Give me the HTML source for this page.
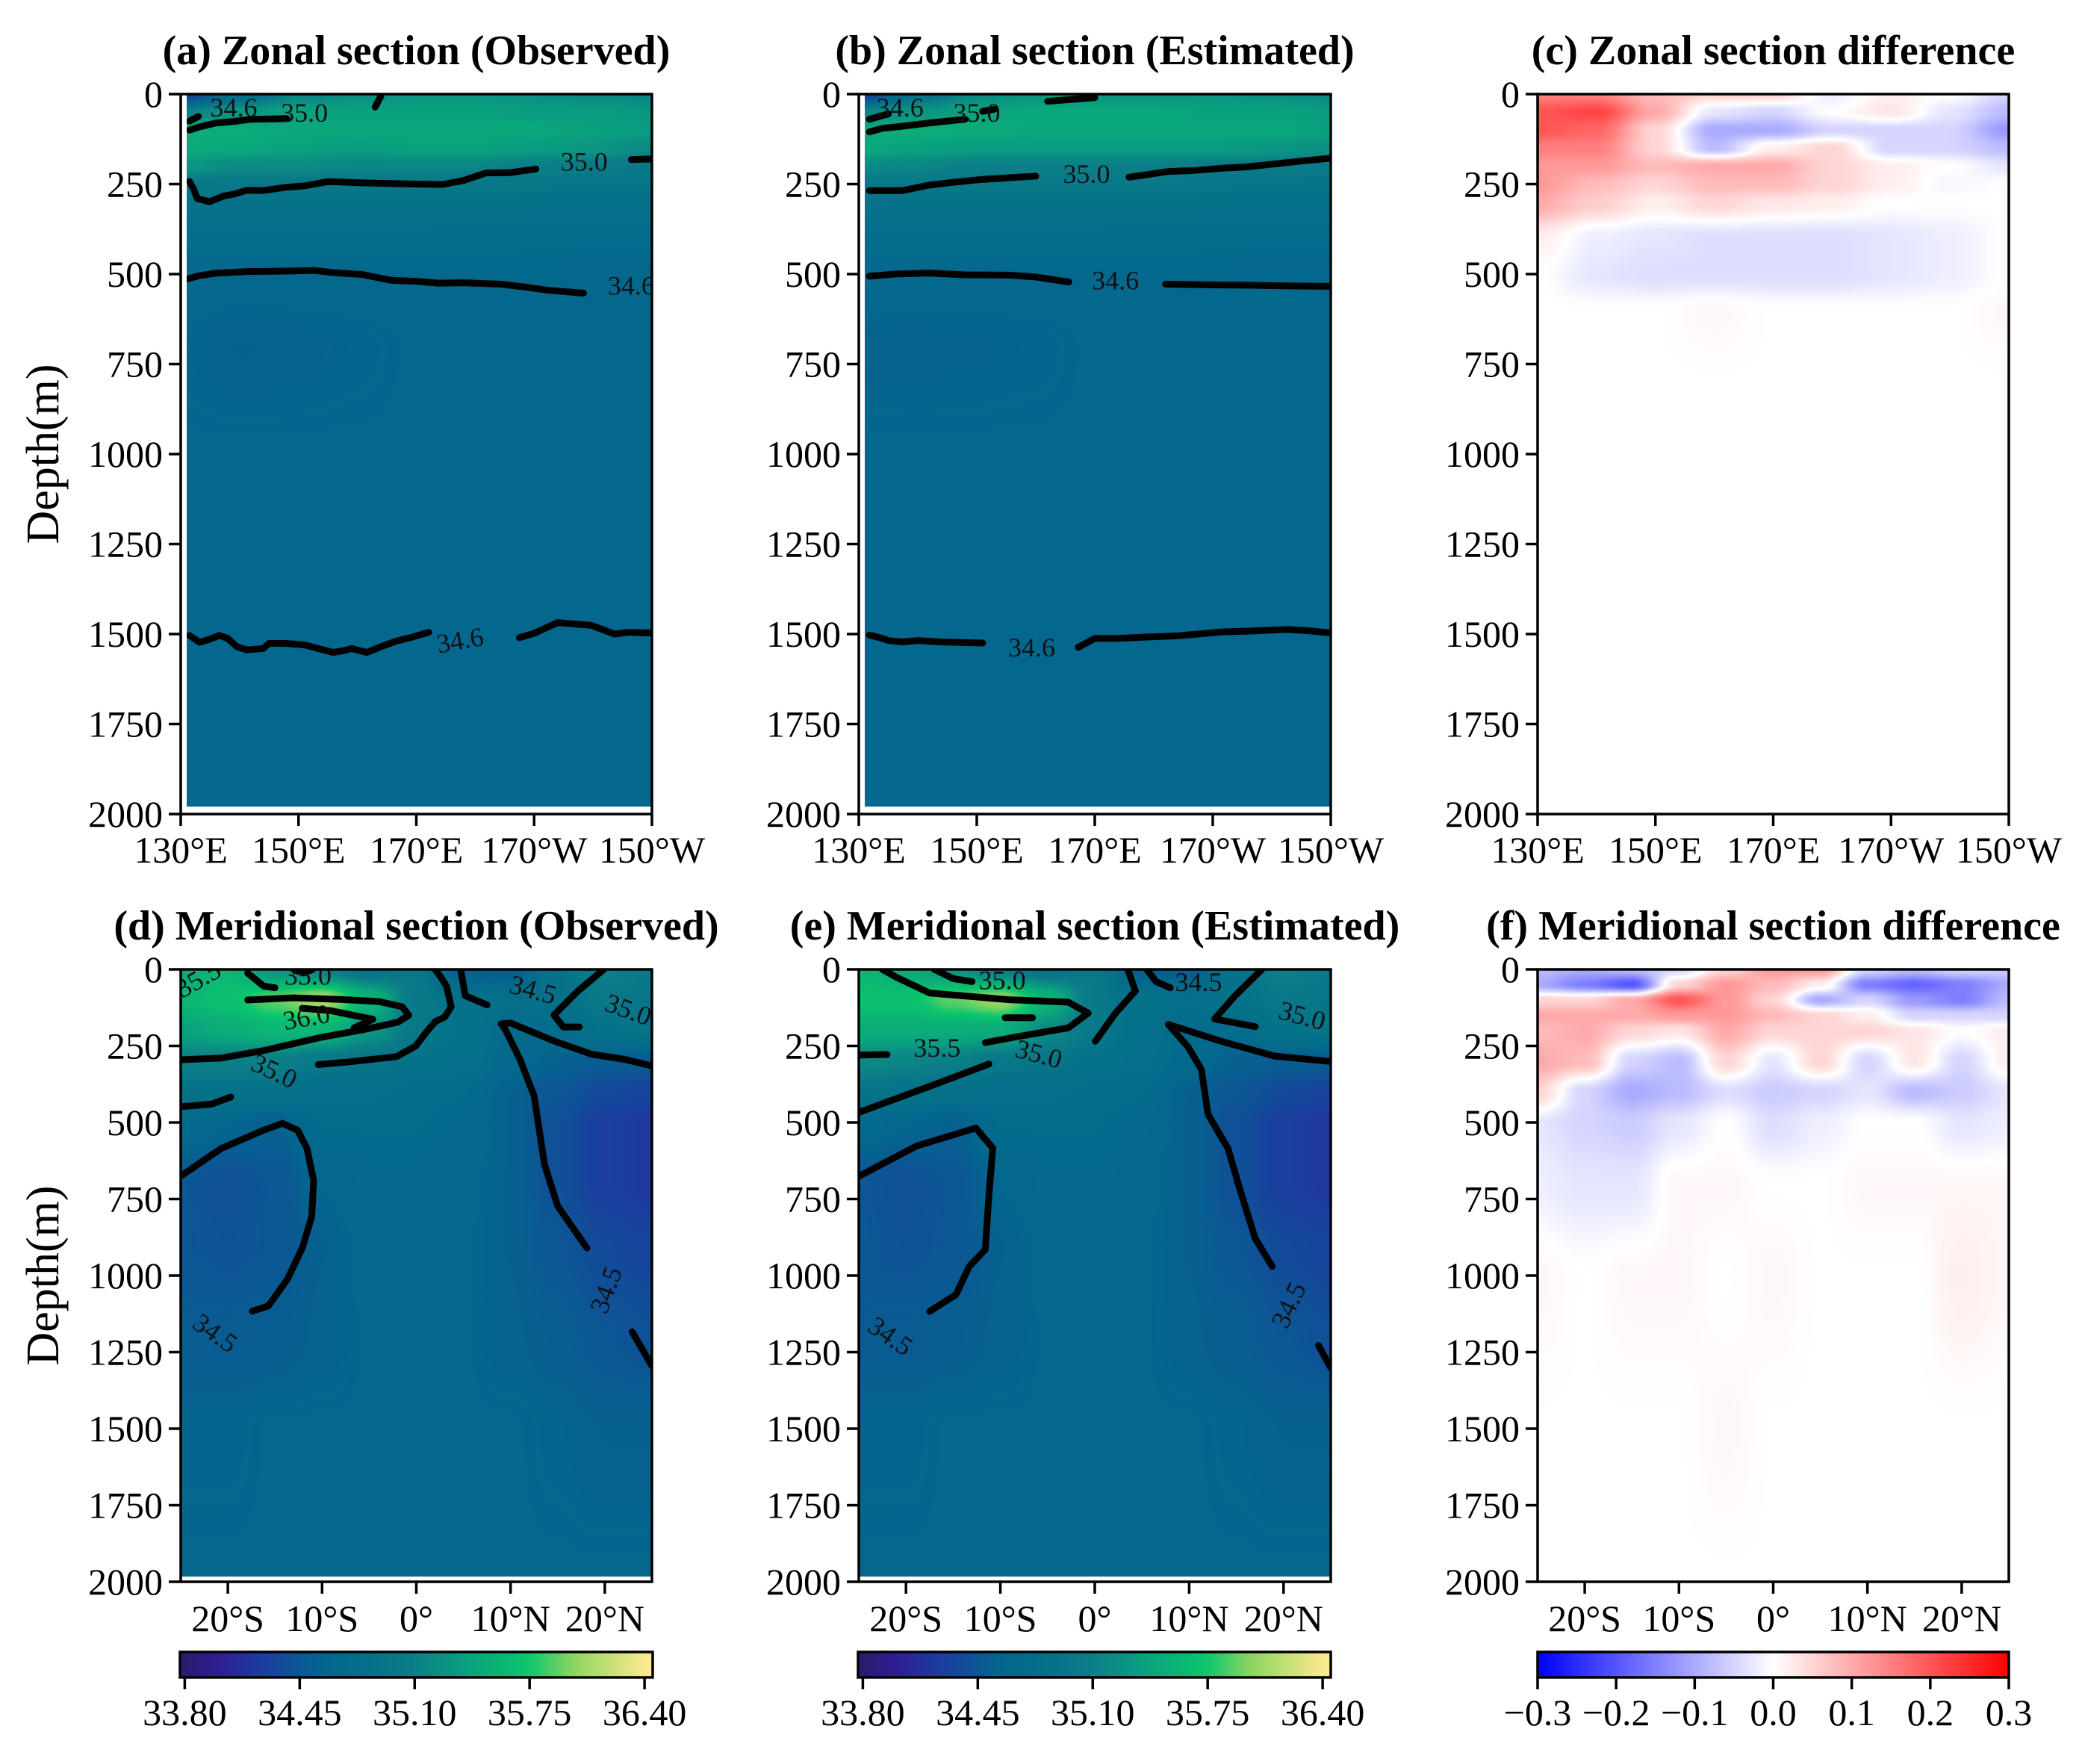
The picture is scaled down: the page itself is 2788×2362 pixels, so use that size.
<!DOCTYPE html>
<html><head><meta charset="utf-8"><style>
html,body{margin:0;padding:0;background:#fff;}
#wrap{position:relative;width:2788px;height:2362px;}
canvas{position:absolute;}
svg{position:absolute;left:0;top:0;display:block;font-family:"Liberation Serif",serif;}
</style></head><body>
<div id="wrap">
<svg id="fig" xmlns="http://www.w3.org/2000/svg" width="2788" height="2362" viewBox="0 0 2788 2362"></svg>
</div>
<script>
// ---------- data ----------
const zonalLon = [130,140,150,160,170,180,190,200,210];
const zonalDepth = [0,50,100,150,200,250,300,400,500,700,1000,1500,2000];
const zonalObs = [
[34.2,34.8,35.15,35.25,35.3,35.3,35.25,35.2,35.15],
[35.1,35.3,35.4,35.4,35.4,35.4,35.35,35.35,35.3],
[35.5,35.5,35.45,35.45,35.45,35.45,35.45,35.4,35.35],
[35.5,35.45,35.4,35.35,35.4,35.4,35.35,35.3,35.2],
[35.3,35.2,35.2,35.15,35.15,35.15,35.1,35.05,35.0],
[35.0,35.0,35.0,35.0,35.0,35.0,34.97,34.95,34.95],
[34.92,34.9,34.9,34.9,34.9,34.9,34.88,34.87,34.87],
[34.75,34.75,34.75,34.75,34.75,34.74,34.73,34.72,34.72],
[34.65,34.63,34.63,34.63,34.64,34.64,34.64,34.63,34.62],
[34.58,34.55,34.56,34.58,34.6,34.6,34.6,34.6,34.6],
[34.6,34.6,34.6,34.6,34.6,34.6,34.6,34.6,34.6],
[34.6,34.6,34.6,34.6,34.6,34.6,34.6,34.6,34.6],
[34.6,34.6,34.6,34.6,34.6,34.6,34.6,34.6,34.6]];
const zonalEst = [
[34.2,34.9,35.2,35.3,35.3,35.3,35.3,35.25,35.2],
[35.15,35.3,35.4,35.45,35.45,35.45,35.4,35.4,35.35],
[35.5,35.5,35.5,35.45,35.45,35.45,35.45,35.45,35.4],
[35.45,35.4,35.35,35.35,35.35,35.35,35.35,35.3,35.25],
[35.2,35.15,35.1,35.1,35.1,35.1,35.05,35.05,35.03],
[35.0,35.0,35.0,35.0,35.0,35.0,34.97,34.95,34.93],
[34.92,34.9,34.9,34.9,34.9,34.9,34.88,34.87,34.87],
[34.75,34.75,34.75,34.75,34.75,34.74,34.73,34.72,34.72],
[34.65,34.63,34.63,34.63,34.64,34.64,34.64,34.63,34.62],
[34.57,34.56,34.57,34.58,34.6,34.6,34.6,34.6,34.6],
[34.6,34.6,34.6,34.6,34.6,34.6,34.6,34.6,34.6],
[34.6,34.6,34.6,34.6,34.6,34.6,34.6,34.6,34.6],
[34.6,34.6,34.6,34.6,34.6,34.6,34.6,34.6,34.6]];
const zonalDiffDepth = [0,50,100,150,200,250,300,400,500,600,800,2000];
const zonalDiff = [
[0.15,0.15,0.08,0.05,0.05,-0.02,0.02,0,-0.05],
[0.2,0.22,0.1,-0.03,-0.05,0,0.03,-0.03,-0.08],
[0.2,0.18,0.05,-0.1,-0.1,-0.05,-0.05,-0.05,-0.12],
[0.15,0.15,0.05,-0.08,0.02,0.05,-0.05,-0.05,-0.08],
[0.12,0.12,0.08,0.1,0.1,0.05,0.02,0,-0.03],
[0.12,0.08,0.05,0.08,0.08,0.05,0.02,-0.01,0],
[0.1,0.06,0.02,0.05,0.03,0.02,0,0,0],
[0.02,-0.02,-0.03,-0.04,-0.04,-0.04,-0.03,-0.02,0],
[0,-0.03,-0.04,-0.04,-0.04,-0.04,-0.03,-0.02,0],
[0,0,0,0.01,0,0,0,0,0.01],
[0,0,0,0,0,0,0,0,0],
[0,0,0,0,0,0,0,0,0]];
const merLat = [-25,-20,-15,-10,-5,0,5,10,15,20,25];
const merDepth = [0,100,200,300,400,500,700,900,1200,1500,2000];
const merObs = [
[35.5,35.6,35.3,35.1,34.9,35.0,34.5,34.5,34.9,35.1,35.0],
[35.6,35.7,35.9,36.1,35.6,35.0,34.9,34.8,34.9,35.0,34.95],
[35.4,35.5,35.6,35.6,35.3,35.0,34.9,34.7,34.75,34.9,34.95],
[35.1,35.1,35.1,35.0,34.95,34.9,34.85,34.65,34.55,34.5,34.5],
[34.9,34.9,34.9,34.8,34.8,34.75,34.7,34.55,34.45,34.35,34.3],
[34.7,34.6,34.55,34.7,34.7,34.7,34.65,34.55,34.4,34.25,34.2],
[34.45,34.4,34.45,34.6,34.65,34.65,34.62,34.55,34.4,34.25,34.2],
[34.45,34.42,34.45,34.55,34.62,34.62,34.6,34.55,34.45,34.35,34.3],
[34.5,34.5,34.52,34.56,34.6,34.6,34.6,34.56,34.52,34.45,34.4],
[34.58,34.58,34.6,34.6,34.6,34.6,34.6,34.6,34.58,34.55,34.55],
[34.6,34.6,34.6,34.6,34.6,34.6,34.6,34.6,34.6,34.6,34.6]];
const merEst = [
[35.6,35.5,35.3,35.1,34.9,35.0,34.5,34.5,34.9,35.1,35.0],
[35.7,35.7,35.9,36.05,35.6,35.0,34.9,34.8,34.9,35.0,34.95],
[35.5,35.5,35.5,35.5,35.2,35.0,34.85,34.7,34.75,34.9,34.95],
[35.2,35.15,35.1,35.0,34.95,34.9,34.8,34.65,34.55,34.5,34.5],
[34.95,34.9,34.85,34.8,34.8,34.75,34.7,34.55,34.45,34.35,34.3],
[34.7,34.6,34.55,34.7,34.7,34.7,34.65,34.55,34.4,34.25,34.2],
[34.45,34.4,34.45,34.6,34.65,34.65,34.62,34.55,34.4,34.25,34.2],
[34.45,34.42,34.45,34.55,34.62,34.62,34.6,34.55,34.45,34.35,34.3],
[34.5,34.5,34.52,34.56,34.6,34.6,34.6,34.56,34.52,34.45,34.4],
[34.58,34.58,34.6,34.6,34.6,34.6,34.6,34.6,34.58,34.55,34.55],
[34.6,34.6,34.6,34.6,34.6,34.6,34.6,34.6,34.6,34.6,34.6]];
const merDiffDepth = [0,50,100,150,200,300,400,500,700,1000,1500,2000];
const merDiff = [
[-0.08,-0.1,-0.08,-0.05,0.05,0.12,0.12,-0.05,-0.08,-0.05,-0.06],
[-0.1,-0.15,-0.2,0.05,0.12,0.08,0.02,-0.15,-0.18,-0.15,-0.1],
[0.05,0.05,0.1,0.2,0.12,0.05,-0.1,-0.05,-0.12,-0.15,-0.08],
[0.1,0.1,0.1,0.12,0.12,0.08,0.05,0.02,-0.05,-0.05,-0.05],
[0.08,0.1,0.05,0.03,0.1,0.05,0.05,0.05,0.03,0,0.02],
[0.1,0.08,-0.05,-0.08,0.05,-0.03,0.05,-0.05,0.03,-0.05,0.02],
[0.05,-0.05,-0.1,-0.08,-0.04,-0.06,-0.05,-0.03,-0.08,-0.06,-0.03],
[-0.03,-0.05,-0.06,-0.03,0,-0.04,-0.02,0,0,-0.03,-0.02],
[-0.02,-0.03,-0.03,0.01,0.01,0,0,0.01,0.01,0.01,0.01],
[0.01,0,0.01,0.01,0,0.01,0,0,0,0.02,0.01],
[0,0,0,0,0.01,0,0,0,0,0,0],
[0,0,0,0,0,0,0,0,0,0,0]];
const depthTicks = [0,250,500,750,1000,1250,1500,1750,2000];
const lonTicks = [130,150,170,190,210];
const lonTickLabels = ["130°E","150°E","170°E","170°W","150°W"];
const latTicks = [-20,-10,0,10,20];
const latTickLabels = ["20°S","10°S","0°","10°N","20°N"];
const salTicks = [33.80,34.45,35.10,35.75,36.40];
const salTickLabels = ["33.80","34.45","35.10","35.75","36.40"];
const diffTicks = [-0.3,-0.2,-0.1,0.0,0.1,0.2,0.3];
const diffTickLabels = ["−0.3","−0.2","−0.1","0.0","0.1","0.2","0.3"];
// contours: [x(lon/lat), depth] pairs
const contA = [
 {pts:[[131.5,100],[133,92],[136,80],[139,76],[142,70],[148,68]]},
 {pts:[[131.5,75],[133,62]]},
 {pts:[[164,5],[163,36]]},
 {pts:[[131.5,243],[132.2,265],[132.8,290],[134.9,299],[137.3,283],[139,278],[141.3,267],[144,268],[147.8,259],[151,255],[155.1,243],[160,246],[164,248],[170,250],[174.5,251],[178,240],[181.8,219],[186,218],[190.3,208]]},
 {pts:[[206.5,182],[210,180]]},
 {pts:[[131.2,513],[133,505],[135.7,498],[141.3,493],[147,492],[152.7,490],[156,496],[160.8,501],[165.6,517],[170,520],[173.7,525],[178,524],[184.3,528],[188,535],[192.4,545],[198.4,553]]},
 {pts:[[131.5,1504],[133.2,1523],[135,1514],[136.5,1504],[138,1512],[139.5,1535],[141.3,1544],[144,1540],[145,1526],[147.8,1526],[151,1530],[155.9,1551],[158,1545],[159,1540],[161.6,1551],[164,1535],[166.5,1520],[169,1510],[172.1,1495]]},
 {pts:[[187.5,1510],[190,1498],[194,1468],[199.7,1476],[203.7,1500],[206,1495],[210,1497]]}];
const labA = [["34.6",139,45,0],["35.0",151,60,0],["35.0",198.5,195,0],["34.6",206.5,540,0],["34.6",177.5,1525,-10]];
const contB = [
 {pts:[[131.8,105],[134,95],[137,90],[142,80],[148,70]]},
 {pts:[[131.8,70],[135,55]]},
 {pts:[[151,48],[153,42]]},
 {pts:[[162,20],[170,10]]},
 {pts:[[131.8,268],[133.6,268],[137.4,268],[141.9,253],[146,245],[151,237],[156,232],[160,228]]},
 {pts:[[175.8,231],[182.5,215],[187,212],[191.5,206],[196,202],[200.5,194],[205,186],[210,178]]},
 {pts:[[131.8,506],[136,500],[141.9,497],[148,502],[155.5,503],[160,508],[165.6,522]]},
 {pts:[[182,528],[190,530],[196,531],[203,533],[210,534]]},
 {pts:[[131.8,1503],[134,1512],[135,1518],[137.4,1522],[140,1518],[144,1522],[151,1525]]},
 {pts:[[167.2,1537],[170,1512],[174,1512],[178,1509],[184,1505],[191.5,1494],[196,1492],[202.8,1487],[207,1492],[210,1497]]}];
const labB = [["34.6",137,45,0],["35.0",150,60,0],["35.0",168.6,230,0],["34.6",173.5,525,0],["34.6",159.3,1545,0]];
const contD = [
 {pts:[[-17.9,12],[-16.2,55],[-15,60]]},
 {pts:[[-12.1,127],[-9.1,135],[-4.6,163],[-6.6,191]]},
 {pts:[[-25,295],[-20.8,290],[-16.2,265],[-10.1,222],[-5.5,196],[-2,173],[-0.8,150],[-1.5,122],[-4,105],[-8,98],[-13,93],[-17.9,100]]},
 {pts:[[-10.4,311],[-7.1,302],[-2.1,285],[-0.05,250],[1,207],[2,171],[3,156],[3.7,122],[3.2,55],[2.5,21],[2,0]]},
 {pts:[[-24.8,448],[-21.7,440],[-19.7,417]]},
 {pts:[[-24.8,671],[-20.7,585],[-16.2,525],[-14.2,503],[-12.6,525],[-11.6,585],[-10.9,688],[-11.1,808],[-12.1,910],[-13.7,1013],[-15.7,1099],[-17.4,1116]]},
 {pts:[[-13,0],[-12,12],[-11,0]]},
 {pts:[[4.7,0],[5.2,86],[7.5,116]]},
 {pts:[[19.9,0],[17.1,72],[14.6,149],[15.6,188],[17.3,188]]},
 {pts:[[9,178],[10,175],[14.6,234],[18.6,277],[22.1,294],[25,315]]},
 {pts:[[9,178],[9.5,200],[11,294],[12.5,414],[13.6,637],[15,773],[18.1,910]]},
 {pts:[[22.9,1184],[25,1295]]}];
const labD = [["35.5",-23,40,-30],["35.0",-11.5,30,0],["36.0",-11.6,165,-10],["35.0",-15.2,340,25],["34.5",12.3,75,15],["35.0",22.4,140,20],["34.5",20.4,1050,-70],["34.5",-21.5,1195,35]];
const contE = [
 {pts:[[-22.5,0],[-21,26],[-17.5,77],[-9.1,99],[-2.8,107],[-0.7,143],[-2.8,191],[-7.7,217],[-11.6,239]]},
 {pts:[[-17,0],[-15,30],[-13,40]]},
 {pts:[[-9.5,158],[-6.6,158]]},
 {pts:[[-25,280],[-22,278]]},
 {pts:[[-25,467],[-17.5,382],[-11.2,309]]},
 {pts:[[0.06,235],[2.2,143],[4.3,70],[3.5,0]]},
 {pts:[[5.5,0],[6.5,40],[8,60]]},
 {pts:[[17.7,0],[14.8,88],[12.7,162],[17,187]]},
 {pts:[[7.8,180],[13.4,235],[19,283],[25,301]]},
 {pts:[[7.8,180],[9.9,254],[11.3,327],[12,474],[14.1,584],[15.5,731],[17,879],[18.8,970]]},
 {pts:[[23.7,1228],[25,1301]]},
 {pts:[[-25,676],[-18.9,577],[-12.6,518],[-10.8,584],[-11.2,731],[-11.6,915],[-13.3,970],[-14.7,1062],[-17.5,1117]]}];
const labE = [["35.0",-9.8,45,0],["35.5",-16.7,265,0],["35.0",-6,285,15],["34.5",11,50,0],["35.0",21.9,160,15],["34.5",20.8,1100,-65],["34.5",-21.8,1205,35]];

// ---------- helpers ----------
const NS="http://www.w3.org/2000/svg";
const svg=document.getElementById('fig');
const wrap=document.getElementById('wrap');
function el(tag,attrs,parent){const e=document.createElementNS(NS,tag);for(const k in attrs)e.setAttribute(k,attrs[k]);(parent||svg).appendChild(e);return e;}
function hex(c){return [parseInt(c.slice(1,3),16),parseInt(c.slice(3,5),16),parseInt(c.slice(5,7),16)];}
function interpRGB(stops,v){
 if(v<=stops[0][0])return hex(stops[0][1]);
 for(let i=1;i<stops.length;i++){if(v<=stops[i][0]){const t=(v-stops[i-1][0])/(stops[i][0]-stops[i-1][0]);const a=hex(stops[i-1][1]),b=hex(stops[i][1]);return a.map((x,j)=>Math.round(x+(b[j]-x)*t));}}
 return hex(stops[stops.length-1][1]);}
function interp(stops,v){return 'rgb('+interpRGB(stops,v).join(',')+')';}
const salStops=[[33.8,'#2c1a6b'],[34.0,'#2e1e96'],[34.25,'#1b3ea0'],[34.45,'#0c5694'],[34.6,'#04678e'],[34.9,'#057289'],[35.1,'#0b7f88'],[35.4,'#0aa27e'],[35.75,'#0cc66c'],[36.0,'#8fd561'],[36.4,'#fbe98f']];
const diffStops=[[-0.3,'#0000ff'],[0,'#ffffff'],[0.3,'#ff0000']];

const rowTop=126,rowBot=1090,row2Top=1298,row2Bot=2118;
const cols=[[242,873],[1150,1782],[2059,2690]];

function makeAxes(x0,x1,y0,y1,dom){
 return {x0,x1,y0,y1,dom,sx:v=>x0+(v-dom[0])/(dom[1]-dom[0])*(x1-x0),sy:d=>y0+d/2000*(y1-y0),
  ix:px=>dom[0]+(px-x0)/(x1-x0)*(dom[1]-dom[0]),iy:py=>(py-y0)/(y1-y0)*2000};
}
function locate(arr,v){
 if(v<=arr[0])return [0,0];
 if(v>=arr[arr.length-1])return [arr.length-2,1];
 let i=0;while(v>arr[i+1])i++;
 let t=(v-arr[i])/(arr[i+1]-arr[i]);
 t=t*t*(3-2*t);
 return [i,t];
}
function drawField(name,ax,xs,ds,grid,stops,whiteLeft,whiteBottom){
 const L=Math.round(ax.x0+whiteLeft),T=Math.round(ax.y0),W=Math.round(ax.x1-ax.x0-whiteLeft),H=Math.round(ax.y1-ax.y0-whiteBottom);
 const cv=document.createElement('canvas');
 cv.width=W;cv.height=H;
 cv.style.left=L+'px';cv.style.top=T+'px';
 
 
 wrap.insertBefore(cv,svg);
 const ctx=cv.getContext('2d');
 const img=ctx.createImageData(W,H);
 const xl=[];for(let x=0;x<W;x++)xl.push(locate(xs,ax.ix(L+x+0.5)));
 for(let y=0;y<H;y++){
  const [r,ty]=locate(ds,ax.iy(T+y+0.5));
  const g0=grid[r],g1=grid[r+1];
  for(let x=0;x<W;x++){
   const [c,tx]=xl[x];
   const a=g0[c]+(g0[c+1]-g0[c])*tx, b=g1[c]+(g1[c+1]-g1[c])*tx;
   const v=a+(b-a)*ty;
   const col=interpRGB(stops,v);
   const k=(y*W+x)*4;
   img.data[k]=col[0];img.data[k+1]=col[1];img.data[k+2]=col[2];img.data[k+3]=255;
  }
 }
 ctx.putImageData(img,0,0);
}
function drawContours(g,ax,conts,labs){
 conts.forEach(cn=>{
  const d='M'+cn.pts.map(p=>ax.sx(p[0]).toFixed(1)+','+ax.sy(p[1]).toFixed(1)).join('L');
  const p=el('path',{d,fill:'none',stroke:'#000','stroke-width':9,'stroke-linejoin':'round','stroke-linecap':'round'},g);
  
  
 });
 labs.forEach(l=>{
  const x=ax.sx(l[1]),y=ax.sy(l[2]);
  const t=el('text',{x,y,'font-size':36,'text-anchor':'middle','dominant-baseline':'middle',transform:'rotate('+l[3]+' '+x+' '+y+')',fill:'#111'},g);
  t.textContent=l[0];
  
  
 });
}
function drawFrame(ax,xt,xl,title,ylab,xlabY){
 const g=el('g',{});
 
 
 el('rect',{x:ax.x0,y:ax.y0,width:ax.x1-ax.x0,height:ax.y1-ax.y0,fill:'none',stroke:'#000','stroke-width':3.5},g);
 depthTicks.forEach(d=>{
  const y=ax.sy(d);
  el('line',{x1:ax.x0-16,x2:ax.x0,y1:y,y2:y,stroke:'#000','stroke-width':3.5},g);
  const t=el('text',{x:ax.x0-24,y:y+17,'font-size':50,'text-anchor':'end'},g);
  t.textContent=d;
  
  
 });
 xt.forEach((v,i)=>{
  const x=ax.sx(v);
  el('line',{x1:x,x2:x,y1:ax.y1,y2:ax.y1+16,stroke:'#000','stroke-width':3.5},g);
  const t=el('text',{x,y:xlabY,'font-size':50,'text-anchor':'middle'},g);
  t.textContent=xl[i];
  
  
 });
 const tt=el('text',{x:(ax.x0+ax.x1)/2,y:ax.y0-40,'font-size':56,'font-weight':'bold','text-anchor':'middle'},g);
 tt.textContent=title;
 
 
 if(ylab){
  const cy=(ax.y0+ax.y1)/2;
  const yl=el('text',{x:78,y:cy,'font-size':62,'text-anchor':'middle',transform:'rotate(-90 78 '+cy+')'},g);
  yl.textContent='Depth(m)';
  
  
 }
}
function panel(name,ax,xs,ds,grid,stops,conts,labs,whiteLeft,whiteBottom){
 drawField(name,ax,xs,ds,grid,stops,whiteLeft,whiteBottom);
 const g=el('g',{});
 
 
 const id='clip-'+name;
 const cp=el('clipPath',{id},g);
 el('rect',{x:ax.x0+whiteLeft,y:ax.y0,width:ax.x1-ax.x0-whiteLeft,height:ax.y1-ax.y0-whiteBottom},cp);
 const inner=el('g',{'clip-path':'url(#'+id+')'},g);
 if(conts)drawContours(inner,ax,conts,labs);
}
function colorbar(x0,x1,y0,y1,dom,stops,ticks,labels,name){
 const g=el('g',{});
 
 
 const gid='grad-'+name;
 const lg=el('linearGradient',{id:gid,x1:0,x2:1,y1:0,y2:0},g);
 for(let i=0;i<=40;i++){const v=dom[0]+(dom[1]-dom[0])*i/40;el('stop',{offset:i/40,'stop-color':interp(stops,v)},lg);}
 el('rect',{x:x0,y:y0,width:x1-x0,height:y1-y0,fill:'url(#'+gid+')',stroke:'#000','stroke-width':3.5},g);
 const sx=v=>x0+(v-dom[0])/(dom[1]-dom[0])*(x1-x0);
 ticks.forEach((v,i)=>{
  const x=sx(v);
  el('line',{x1:x,x2:x,y1:y1,y2:y1+16,stroke:'#000','stroke-width':3.5},g);
  const t=el('text',{x,y:2310,'font-size':50,'text-anchor':'middle'},g);
  t.textContent=labels[i];
  
  
 });
}

// ---------- build ----------
const axA=makeAxes(cols[0][0],cols[0][1],rowTop,rowBot,[130,210]);
const axB=makeAxes(cols[1][0],cols[1][1],rowTop,rowBot,[130,210]);
const axC=makeAxes(cols[2][0],cols[2][1],rowTop,rowBot,[130,210]);
const axD=makeAxes(cols[0][0],cols[0][1],row2Top,row2Bot,[-25,25]);
const axE=makeAxes(cols[1][0],cols[1][1],row2Top,row2Bot,[-25,25]);
const axF=makeAxes(cols[2][0],cols[2][1],row2Top,row2Bot,[-25,25]);

panel('panel-a-zonal-observed',axA,zonalLon,zonalDepth,zonalObs,salStops,contA,labA,8,10);
panel('panel-b-zonal-estimated',axB,zonalLon,zonalDepth,zonalEst,salStops,contB,labB,8,10);
panel('panel-c-zonal-difference',axC,zonalLon,zonalDiffDepth,zonalDiff,diffStops,null,null,0,0);
panel('panel-d-meridional-observed',axD,merLat,merDepth,merObs,salStops,contD,labD,0,7);
panel('panel-e-meridional-estimated',axE,merLat,merDepth,merEst,salStops,contE,labE,0,7);
panel('panel-f-meridional-difference',axF,merLat,merDiffDepth,merDiff,diffStops,null,null,0,0);

drawFrame(axA,lonTicks,lonTickLabels,'(a) Zonal section (Observed)',true,1155);
drawFrame(axB,lonTicks,lonTickLabels,'(b) Zonal section (Estimated)',false,1155);
drawFrame(axC,lonTicks,lonTickLabels,'(c) Zonal section difference',false,1155);
drawFrame(axD,latTicks,latTickLabels,'(d) Meridional section (Observed)',true,2184);
drawFrame(axE,latTicks,latTickLabels,'(e) Meridional section (Estimated)',false,2184);
drawFrame(axF,latTicks,latTickLabels,'(f) Meridional section difference',false,2184);

colorbar(241,874,2212,2246,[33.773,36.446],salStops,salTicks,salTickLabels,'colorbar-observed');
colorbar(1149,1782,2212,2246,[33.773,36.446],salStops,salTicks,salTickLabels,'colorbar-estimated');
colorbar(2059,2690,2212,2246,[-0.3,0.3],diffStops,diffTicks,diffTickLabels,'colorbar-difference');
</script>
</body></html>
